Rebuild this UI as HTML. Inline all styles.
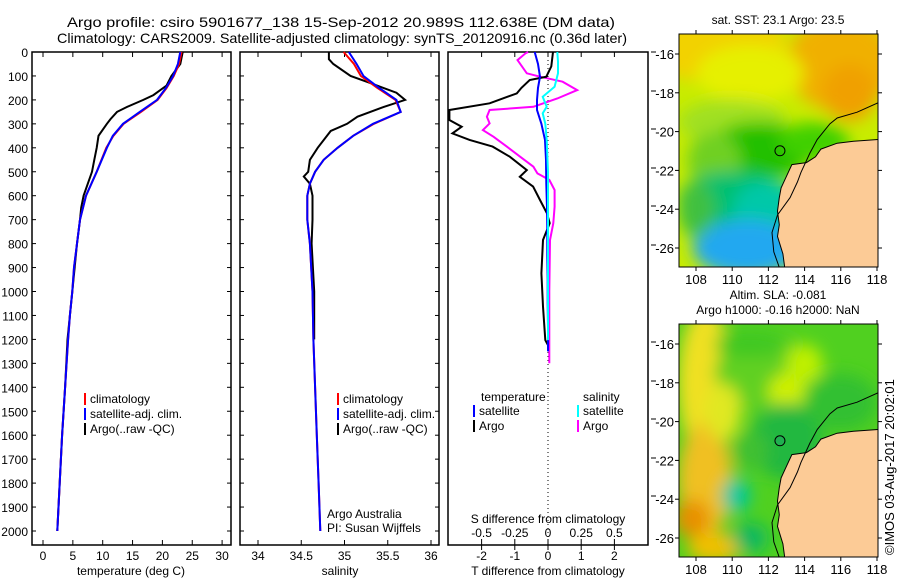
<!DOCTYPE html>
<html><head><meta charset="utf-8"><style>
html,body{margin:0;padding:0;background:#fff;}
svg{display:block;font-family:"Liberation Sans",sans-serif;}
text{fill:#000;}
</style></head><body>
<svg id="fig" width="900" height="580" viewBox="0 0 900 580" xmlns="http://www.w3.org/2000/svg">
<rect width="900" height="580" fill="#fff"/>
<text x="67" y="27" font-size="14" textLength="548" lengthAdjust="spacingAndGlyphs">Argo profile: csiro 5901677_138 15-Sep-2012 20.989S 112.638E (DM data)</text>
<text x="57" y="43" font-size="14" textLength="570" lengthAdjust="spacingAndGlyphs">Climatology: CARS2009. Satellite-adjusted climatology: synTS_20120916.nc (0.36d later)</text>
<g id="g1"></g>
<g id="g2"></g>
<g id="g3"></g>
<g id="m1"></g>
<g id="m2"></g>
<text x="0" y="0" font-size="13" transform="translate(894,555) rotate(-90)">©IMOS 03-Aug-2017 20:02:01</text>
</svg>
<script>
// ---- data ----
const tDepth=[0,50,100,150,200,250,300,350,400,500,600,700,800,900,1000,1100,1200,1400,1600,1800,2000];
const tClim=[23.2,22.8,21.9,20.7,19.2,16.4,13.5,11.8,10.6,9.0,7.2,6.2,5.7,5.2,4.9,4.5,4.2,3.7,3.2,2.8,2.4];
const tSat =[23.0,22.6,21.8,20.6,19.1,16.2,13.4,11.7,10.7,9.0,7.2,6.2,5.7,5.2,4.9,4.5,4.2,3.7,3.2,2.8,2.4];
const tArgoDepth=[0,50,100,140,180,200,230,250,280,300,350,400,450,500,550,600,650,700,800,1000,1200,1400,1600,1800,2000];
const tArgo=[23.4,23.0,21.5,20.7,18.5,16.8,14.0,12.4,11.3,10.7,9.3,9.0,8.6,8.2,7.5,6.8,6.4,6.2,5.7,4.9,4.1,3.7,3.2,2.8,2.4];
const sDepth=[0,50,100,150,200,250,300,350,400,450,500,550,600,700,800,1000,1200,1400,1600,1800,2000];
const sClim=[34.99,35.11,35.19,35.38,35.59,35.65,35.34,35.10,34.92,34.76,34.66,34.60,34.57,34.57,34.60,34.63,34.64,34.66,34.68,34.70,34.72];
const sSat =[35.05,35.14,35.22,35.40,35.60,35.65,35.33,35.10,34.92,34.76,34.66,34.60,34.57,34.57,34.60,34.63,34.64,34.66,34.68,34.70,34.72];
const sArgoDepth=[0,30,50,100,130,170,200,230,270,300,330,400,450,500,520,550,600,700,800,1000,1200];
const sArgo=[34.82,34.82,34.87,35.07,35.30,35.60,35.70,35.45,35.15,35.03,34.84,34.69,34.60,34.58,34.53,34.60,34.63,34.63,34.62,34.65,34.65];
const dTDepth=[0,50,103,150,200,242,300,367,450,550,650,750,850,950,1050,1150,1250];
const dTSat=[-0.40,-0.30,-0.24,-0.30,-0.33,-0.33,-0.20,-0.09,-0.06,-0.05,-0.03,-0.02,-0.02,-0.01,-0.01,0,0];
const dTArgoDepth=[0,60,103,117,150,173,214,242,284,312,340,367,395,437,493,521,562,618,674,715,785,924,1063,1203,1224];
const dTArgo=[0.15,0.1,-0.05,-0.55,-0.8,-0.94,-1.76,-2.97,-2.97,-2.6,-2.88,-2.36,-1.67,-1.15,-0.64,-0.85,-0.45,-0.24,-0.03,0.05,-0.15,-0.2,-0.15,-0.08,0];
const dSDepth=[0,40,89,145,187,229,256,300,367,500,700,900,1100,1203];
const dSSat=[0.07,0.075,0.075,0.05,-0.04,-0.01,-0.04,-0.02,-0.01,0,0,0,0,0];
const dSArgoDepth=[0,6,34,89,103,124,159,194,229,242,270,298,326,354,395,437,479,507,534,576,646,715,785,1000,1300];
const dSArgo=[-0.15,-0.17,-0.23,-0.16,-0.06,0.11,0.22,0.07,-0.11,-0.44,-0.46,-0.44,-0.49,-0.41,-0.31,-0.21,-0.11,-0.08,0.01,0.05,0.05,0.04,0.015,0.01,0.01];
const depthTicks=[0,100,200,300,400,500,600,700,800,900,1000,1100,1200,1300,1400,1500,1600,1700,1800,1900,2000];
const tTicks=[0,5,10,15,20,25,30];
const sTicks=[34,34.5,35,35.5,36];
const dTTicks=[-2,-1,0,1,2];
const dSTicks=[-0.5,-0.25,0,0.25,0.5];
const dSTickLabels=["-0.5","-0.25","0","0.25","0.5"];

const NS="http://www.w3.org/2000/svg";
function mk(tag,attrs,parent){const e=document.createElementNS(NS,tag);for(const k in attrs)e.setAttribute(k,attrs[k]);parent.appendChild(e);return e;}
const yD=d=>52+d*0.2395;
const xT=t=>43+t*5.97;
const xS=s=>258+(s-34)*86.5;
const xDT=t=>548+t*33.2;
const xDS=s=>548+s*4*33.2;
const BOT=545;

function line(g,depths,vals,xf,col,name,w){
  const p=mk('polyline',{points:vals.map((v,i)=>xf(v).toFixed(1)+','+yD(depths[i]).toFixed(1)).join(' '),fill:'none',stroke:col,'stroke-width':w||2},g);
  
  
}
function frame(g,x0,x1,name){
  const r=mk('rect',{x:x0,y:52,width:x1-x0,height:BOT-52,fill:'none',stroke:'#000','stroke-width':1.5},g);
  
  
}
function txt(g,x,y,s,name,anchor,size){
  const t=mk('text',{x:x,y:y,'font-size':size||12,'text-anchor':anchor||'start'},g);t.textContent=s;
  
  
  return t;
}
function leg(g,x,y,col,label,name){
  mk('rect',{x:x,y:y-10,width:2,height:12,fill:col},g);
  txt(g,x+6,y,label,name);
}
// panel 1
const g1=document.getElementById('g1');
frame(g1,32,231,'temperature-axes');
depthTicks.forEach(d=>{const y=yD(d);mk('line',{x1:32,x2:36,y1:y,y2:y,stroke:'#000'},g1);mk('line',{x1:227,x2:231,y1:y,y2:y,stroke:'#000'},g1);
 txt(g1,28,y+5,String(d),'depth-tick-label','end',12);});
tTicks.forEach(t=>{const x=xT(t);mk('line',{x1:x,x2:x,y1:BOT,y2:BOT-5,stroke:'#000'},g1);mk('line',{x1:x,x2:x,y1:52,y2:57,stroke:'#000'},g1);
 txt(g1,x,560,String(t),'temperature-tick-label','middle');});
txt(g1,131,575,'temperature (deg C)','x-axis-title-temperature','middle');
line(g1,tArgoDepth,tArgo,xT,'#000','temperature-argo-line');
line(g1,tDepth,tClim,xT,'#f00','temperature-climatology-line');
line(g1,tDepth,tSat,xT,'#00f','temperature-satellite-line');
leg(g1,84,403,'#f00','climatology','legend-climatology');
leg(g1,84,418,'#00f','satellite-adj. clim.','legend-satellite');
leg(g1,84,433,'#000','Argo(..raw -QC)','legend-argo');
// panel 2
const g2=document.getElementById('g2');
frame(g2,240,439,'salinity-axes');
depthTicks.forEach(d=>{const y=yD(d);mk('line',{x1:240,x2:244,y1:y,y2:y,stroke:'#000'},g2);mk('line',{x1:435,x2:439,y1:y,y2:y,stroke:'#000'},g2);});
sTicks.forEach(s=>{const x=xS(s);mk('line',{x1:x,x2:x,y1:BOT,y2:BOT-5,stroke:'#000'},g2);mk('line',{x1:x,x2:x,y1:52,y2:57,stroke:'#000'},g2);
 txt(g2,x,560,String(s),'salinity-tick-label','middle');});
txt(g2,340,575,'salinity','x-axis-title-salinity','middle');
line(g2,sArgoDepth,sArgo,xS,'#000','salinity-argo-line');
line(g2,sDepth,sClim,xS,'#f00','salinity-climatology-line');
line(g2,sDepth,sSat,xS,'#00f','salinity-satellite-line');
leg(g2,337,403,'#f00','climatology','legend-climatology');
leg(g2,337,418,'#00f','satellite-adj. clim.','legend-satellite');
leg(g2,337,433,'#000','Argo(..raw -QC)','legend-argo');
txt(g2,327,518,'Argo Australia','credit-argo-australia');
txt(g2,327,532,'PI: Susan Wijffels','credit-pi');
// panel 3
const g3=document.getElementById('g3');
frame(g3,448,648,'difference-axes');
mk('line',{x1:548,x2:548,y1:52,y2:BOT,stroke:'#000','stroke-dasharray':'1,3'},g3);
dTTicks.forEach(t=>{const x=xDT(t);mk('line',{x1:x,x2:x,y1:BOT,y2:BOT+5,stroke:'#000'},g3);mk('line',{x1:x,x2:x,y1:52,y2:57,stroke:'#000'},g3);
 txt(g3,x,560,String(t),'t-diff-tick-label','middle');});
dSTicks.forEach((s,i)=>{const x=xDS(s);mk('line',{x1:x,x2:x,y1:BOT,y2:BOT-6,stroke:'#000'},g3);
 txt(g3,x,537,dSTickLabels[i],'s-diff-tick-label','middle');});
txt(g3,548,523,'S difference from climatology','s-diff-axis-title','middle');
txt(g3,548,575,'T difference from climatology','t-diff-axis-title','middle');
[52,91,129,168,206,245,342,381,419,458,496].forEach(y=>mk('line',{x1:651,x2:656,y1:y,y2:y,stroke:'#000'},g3));
line(g3,dSArgoDepth,dSArgo,xDS,'#f0f','salinity-diff-argo-line');
line(g3,dTArgoDepth,dTArgo,xDT,'#000','temperature-diff-argo-line');
line(g3,dTDepth,dTSat,xDT,'#00f','temperature-diff-satellite-line');
line(g3,dSDepth,dSSat,xDS,'#0ff','salinity-diff-satellite-line');
txt(g3,481,401,'temperature','legend-temperature-header');
txt(g3,583,401,'salinity','legend-salinity-header');
leg(g3,473,415,'#00f','satellite','legend-t-satellite');
leg(g3,473,430,'#000','Argo','legend-t-argo');
leg(g3,577,415,'#0ff','satellite','legend-s-satellite');
leg(g3,577,430,'#f0f','Argo','legend-s-argo');

// ---- maps ----
const latTicks=[-16,-18,-20,-22,-24,-26];
const lonTicks=[108,110,112,114,116,118];
const landLon=[118.1,116.7,115.8,114.9,114.6,114.1,113.3,113.1,112.9,112.7,112.6,112.5,112.6,112.5,112.8,112.9,118.1];
const landLat=[-20.4,-20.5,-20.6,-20.9,-21.3,-21.6,-21.7,-22.1,-22.5,-22.9,-23.4,-24.1,-24.8,-25.4,-26.3,-27.0,-27.0];
const isoLon=[118.1,116.9,115.8,115.4,114.7,114.3,113.8,113.6,113.2,112.5,112.2,112.3,112.6];
const isoLat=[-18.5,-19.0,-19.3,-19.6,-20.4,-21.1,-22.1,-22.6,-23.4,-24.3,-25.2,-26.2,-27.0];
function drawMap(id,oy,title1,title2,blobs,base,circleCol){
  const g=document.getElementById(id);
  const xL=l=>696+(l-108)*18.1, yL=l=>oy+20+(-16-l)*19.4;
  const X0=679,X1=878,Y0=oy,Y1=oy+233;
  const cid='clip'+id, fid='blur'+id;
  const defs=mk('defs',{},g);
  const cp=mk('clipPath',{id:cid},defs);mk('rect',{x:X0,y:Y0,width:X1-X0,height:Y1-Y0},cp);
  const f=mk('filter',{id:fid,x:'-50%',y:'-50%',width:'200%',height:'200%'},defs);mk('feGaussianBlur',{stdDeviation:8},f);
  const cg=mk('g',{'clip-path':'url(#'+cid+')'},g);
  mk('rect',{x:X0,y:Y0,width:X1-X0,height:Y1-Y0,fill:base},cg);
  const bg=mk('g',{filter:'url(#'+fid+')'},cg);
  blobs.forEach(b=>mk('ellipse',{cx:xL(b[0]),cy:yL(b[1]),rx:b[2]*18,ry:b[3]*19,fill:b[4]},bg));
  const land=mk('polygon',{points:landLon.map((v,i)=>xL(v).toFixed(1)+','+yL(landLat[i]).toFixed(1)).join(' '),fill:'#fccb96',stroke:'#000','stroke-width':1},cg);
  
  
  const iso=mk('polyline',{points:isoLon.map((v,i)=>xL(v).toFixed(1)+','+yL(isoLat[i]).toFixed(1)).join(' '),fill:'none',stroke:'#000','stroke-width':1},cg);
  
  
  const c=mk('circle',{cx:xL(112.638),cy:yL(-20.989),r:5,fill:circleCol,stroke:'#000','stroke-width':1},g);
  
  
  mk('rect',{x:X0,y:Y0,width:X1-X0,height:Y1-Y0,fill:'none',stroke:'#000','stroke-width':1},g);
  latTicks.forEach(l=>{const y=yL(l);mk('line',{x1:X0-4,x2:X0,y1:y,y2:y,stroke:'#000'},g);mk('line',{x1:X1,x2:X1+4,y1:y,y2:y,stroke:'#000'},g);
    txt(g,X0-5,y+5,String(l),'latitude-tick-label','end',13);});
  lonTicks.forEach(l=>{const x=xL(l);mk('line',{x1:x,x2:x,y1:Y1,y2:Y1+4,stroke:'#000'},g);mk('line',{x1:x,x2:x,y1:Y0-4,y2:Y0,stroke:'#000'},g);
    txt(g,x,Y1+17,String(l),'longitude-tick-label','middle',13);});
  if(title2){txt(g,778,oy-25,title1,'map-title','middle',12);txt(g,778,oy-10,title2,'map-subtitle','middle',12);}
  else txt(g,778,oy-10,title1,'map-title','middle',12);
}
drawMap('m1',34,'sat. SST: 23.1  Argo: 23.5',null,[
 [109,-15.5,4,2,'#f2d200'],[116,-16.5,3,2.5,'#f0b000'],[116.5,-18,1.5,1.5,'#f0a000'],[111,-17,3,1.5,'#e6f000'],
 [110,-19.5,3,1.2,'#a0e020'],[111.5,-21,3,1.5,'#20c000'],[109,-21.5,1.5,1.5,'#70d020'],[114.5,-20.5,2,1,'#40d000'],
 [110,-23.5,3,1.5,'#00c070'],[112,-24,2,1.5,'#00c8a8'],[110.8,-26,3,1.5,'#20a8f0'],[108,-24,1,1.5,'#40c040']
],'#c8ec00','#fff0');
drawMap('m2',324,'Altim. SLA: -0.081','Argo h1000: -0.16 h2000: NaN',[
 [108.5,-18,1.5,4,'#f0e020'],[108.5,-23,1.5,3,'#f0c020'],[107.8,-25,1,1,'#e89000'],[109,-26.5,1.5,0.8,'#f0c000'],
 [112,-17.5,3,2,'#60d020'],[113,-18.5,1,1,'#d0f000'],[114,-17,1,1,'#c0f000'],[111,-16,2,0.7,'#40c820'],
 [110.2,-23.8,0.8,0.9,'#00c8a0'],[111,-26,1,0.8,'#10b860'],[113,-21,2,2,'#20b840'],[111,-21.5,1,1,'#40c030'],
 [109.5,-19.5,1,1.5,'#e0e820'],[116,-19,2,1.5,'#30c030']
],'#50d020','#20b050');
</script>
</body></html>
